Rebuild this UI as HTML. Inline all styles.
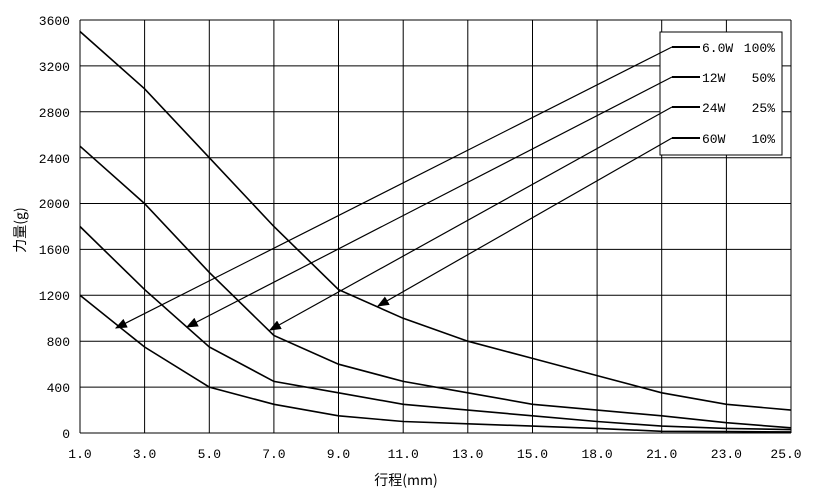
<!DOCTYPE html>
<html><head><meta charset="utf-8"><style>body{margin:0;background:#fff}</style></head><body>
<svg width="814" height="490" xmlns="http://www.w3.org/2000/svg" font-family="Liberation Mono, 'Noto Sans CJK SC', monospace" font-size="13">
<defs><marker id="a" markerWidth="10" markerHeight="8" refX="9" refY="4" orient="auto"><path d="M0,0 L10,4 L0,8z" fill="#000"/></marker></defs>
<g stroke="#000" stroke-width="1" fill="none">
<line x1="80" y1="20" x2="80" y2="433"/><line x1="144.6" y1="20" x2="144.6" y2="433"/><line x1="209.3" y1="20" x2="209.3" y2="433"/><line x1="273.9" y1="20" x2="273.9" y2="433"/><line x1="338.5" y1="20" x2="338.5" y2="433"/><line x1="403.2" y1="20" x2="403.2" y2="433"/><line x1="467.8" y1="20" x2="467.8" y2="433"/><line x1="532.5" y1="20" x2="532.5" y2="433"/><line x1="597.1" y1="20" x2="597.1" y2="433"/><line x1="661.7" y1="20" x2="661.7" y2="433"/><line x1="726.4" y1="20" x2="726.4" y2="433"/><line x1="791" y1="20" x2="791" y2="433"/>
<line x1="80" y1="433" x2="791" y2="433"/><line x1="80" y1="387.1" x2="791" y2="387.1"/><line x1="80" y1="341.2" x2="791" y2="341.2"/><line x1="80" y1="295.3" x2="791" y2="295.3"/><line x1="80" y1="249.4" x2="791" y2="249.4"/><line x1="80" y1="203.5" x2="791" y2="203.5"/><line x1="80" y1="157.7" x2="791" y2="157.7"/><line x1="80" y1="111.8" x2="791" y2="111.8"/><line x1="80" y1="65.9" x2="791" y2="65.9"/><line x1="80" y1="20" x2="791" y2="20"/>
</g>
<g text-anchor="end">
<text x="70" y="438">0</text><text x="70" y="392">400</text><text x="70" y="346">800</text><text x="70" y="300">1200</text><text x="70" y="254">1600</text><text x="70" y="208">2000</text><text x="70" y="163">2400</text><text x="70" y="117">2800</text><text x="70" y="71">3200</text><text x="70" y="25">3600</text>
</g>
<g text-anchor="middle">
<text x="80" y="458">1.0</text><text x="144.6" y="458">3.0</text><text x="209.3" y="458">5.0</text><text x="273.9" y="458">7.0</text><text x="338.5" y="458">9.0</text><text x="403.2" y="458">11.0</text><text x="467.8" y="458">13.0</text><text x="532.5" y="458">15.0</text><text x="597.1" y="458">18.0</text><text x="661.7" y="458">21.0</text><text x="726.4" y="458">23.0</text><text x="786" y="458">25.0</text>
</g>
<g stroke="#000" stroke-width="1.6" fill="none">
<polyline points="80,31.5 144.6,88.8 209.3,157.7 273.9,226.5 338.5,289.6 403.2,318.3 467.8,341.2 532.5,358.4 597.1,375.6 661.7,392.8 726.4,404.3 791,410.1"/>
<polyline points="80,146.2 144.6,203.6 209.3,272.4 273.9,335.5 338.5,364.2 403.2,381.4 467.8,392.8 532.5,404.3 597.1,410.1 661.7,415.8 726.4,422.7 791,427.8"/>
<polyline points="80,226.5 144.6,289.6 209.3,347 273.9,381.4 338.5,392.8 403.2,404.3 467.8,410.1 532.5,415.8 597.1,421.5 661.7,426.1 726.4,428.4 791,429.6"/>
<polyline points="80,295.3 144.6,347 209.3,387.1 273.9,404.3 338.5,415.8 403.2,421.5 467.8,423.8 532.5,426.1 597.1,428.4 661.7,431.3 726.4,431.6 791,431.9"/>
</g>
<rect x="660" y="32" width="122" height="123" fill="#fff" stroke="#000"/>
<g stroke="#000" stroke-width="1.2" fill="none">
<line x1="672" y1="47" x2="116" y2="328" marker-end="url(#a)"/>
<line x1="672" y1="77" x2="187" y2="327" marker-end="url(#a)"/>
<line x1="672" y1="107" x2="270" y2="330" marker-end="url(#a)"/>
<line x1="672" y1="138" x2="378" y2="306" marker-end="url(#a)"/>
</g>
<g stroke="#000" stroke-width="2"><line x1="672" y1="47" x2="700" y2="47"/><line x1="672" y1="77" x2="700" y2="77"/><line x1="672" y1="107" x2="700" y2="107"/><line x1="672" y1="138" x2="700" y2="138"/></g>
<g font-size="13"><text x="702" y="52">6.0W</text><text x="702" y="82">12W</text><text x="702" y="112">24W</text><text x="702" y="143">60W</text></g>
<g font-size="13" text-anchor="end"><text x="775" y="52">100%</text><text x="775" y="82">50%</text><text x="775" y="112">25%</text><text x="775" y="143">10%</text></g>
<text x="406" y="485" text-anchor="middle" font-family="'Noto Sans CJK SC', sans-serif" font-size="14">行程(mm)</text>
<text transform="translate(25,230) rotate(-90)" text-anchor="middle" font-family="'Noto Sans CJK SC', sans-serif" font-size="14">力量(g)</text>
</svg></body></html>
